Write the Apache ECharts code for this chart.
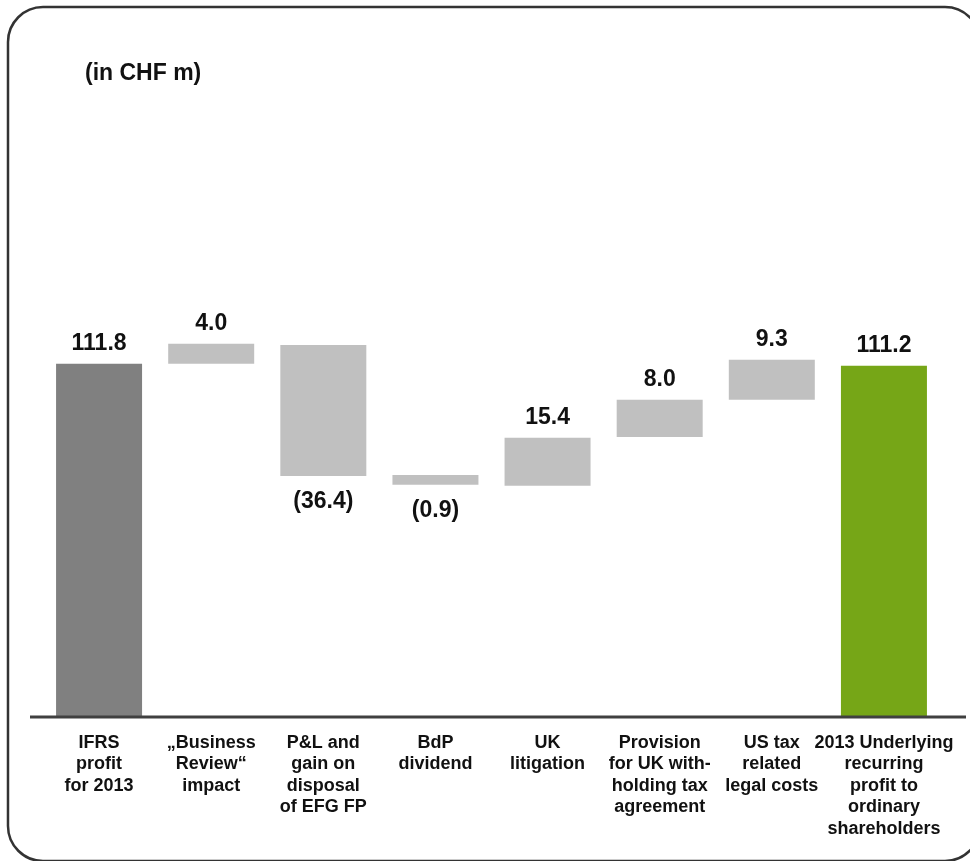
<!DOCTYPE html>
<html><head><meta charset="utf-8">
<script src="https://cdn.jsdelivr.net/npm/echarts@6/dist/echarts.min.js"></script>
<style>html,body{margin:0;padding:0;background:#fff}#c{width:970px;height:861px}</style>
</head><body><div id="c"></div>
<script>
// ---- data ----
const categories = [
  'IFRS\nprofit\nfor 2013',
  '„Business\nReview“\nimpact',
  'P&L and\ngain on\ndisposal\nof EFG FP',
  'BdP\ndividend',
  'UK\nlitigation',
  'Provision\nfor UK with-\nholding tax\nagreement',
  'US tax\nrelated\nlegal costs',
  '2013 Underlying\nrecurring\nprofit to\nordinary\nshareholders'
];
const barLow  = [0,     111.8, 76.2,  73.4,  73.1, 88.6,  100.4, 0];
const barHigh = [111.8, 118.2, 117.8, 76.5,  88.3, 100.4, 113.1, 111.2];
const valueLabels = ['111.8', '4.0', '(36.4)', '(0.9)', '15.4', '8.0', '9.3', '111.2'];
const barKind = ['total', 'up', 'down', 'down', 'up', 'up', 'up', 'result'];

// ---- styling ----
const FONT = '"Liberation Sans", Arial, sans-serif';
const kindColor = { total: '#808080', up: '#C0C0C0', down: '#C0C0C0', result: '#76A617' };

const chart = echarts.init(document.getElementById('c'), null, { renderer: 'canvas' });

const visible = barHigh.map((h, i) => ({
  value: +(h - barLow[i]).toFixed(2),
  itemStyle: { color: kindColor[barKind[i]] },
  label: {
    show: true,
    position: barKind[i] === 'down' ? 'bottom' : 'top',
    distance: barKind[i] === 'down' ? 14 : 9,
    formatter: valueLabels[i],
    fontFamily: FONT, fontWeight: 'bold', fontSize: 23, color: '#111'
  }
}));

chart.setOption({
  animation: false,
  backgroundColor: '#fff',
  title: {
    text: '(in CHF m)', left: 80, top: 57,
    textStyle: { fontFamily: FONT, fontWeight: 'bold', fontSize: 23, color: '#111' }
  },
  grid: { left: 43, right: 30, top: 275, bottom: 145, containLabel: false },
  xAxis: {
    type: 'category', data: categories,
    axisLine: { show: false }, axisTick: { show: false },
    axisLabel: {
      interval: 0, margin: 16, verticalAlign: 'top',
      fontFamily: FONT, fontWeight: 'bold', fontSize: 18, lineHeight: 21.5, color: '#111', align: 'center'
    }
  },
  yAxis: { type: 'value', min: 0, max: 140, show: false, splitLine: { show: false } },
  series: [
    { type: 'bar', stack: 'w', data: barLow, barWidth: 86, itemStyle: { color: 'transparent' }, silent: true },
    { type: 'bar', stack: 'w', data: visible, barWidth: 86 }
  ]
});

const y0 = chart.convertToPixel({ yAxisIndex: 0 }, 0);
chart.setOption({
  graphic: [
    { type: 'rect', shape: { x: 8, y: 7, width: 972, height: 854, r: 35 },
      style: { fill: 'none', stroke: '#333', lineWidth: 2.5 }, z: 10 },
    { type: 'line', shape: { x1: 30, y1: y0 + 1, x2: 966, y2: y0 + 1 },
      style: { stroke: '#404040', lineWidth: 3 }, z: 10 }
  ]
});
</script>
</body></html>
